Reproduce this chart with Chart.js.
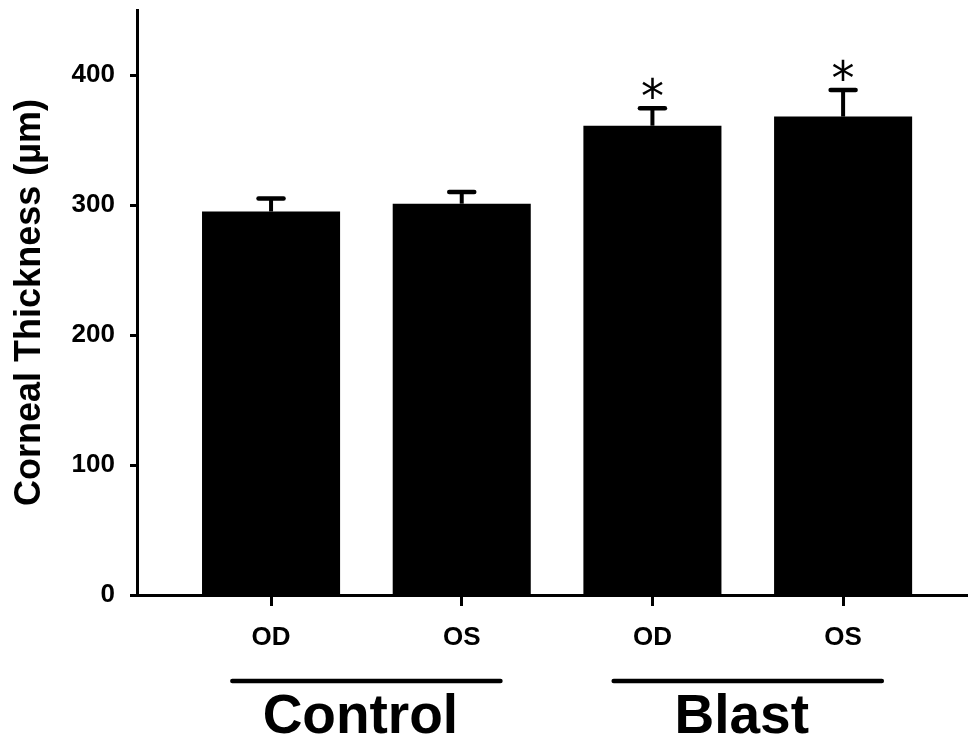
<!DOCTYPE html>
<html>
<head>
<meta charset="utf-8">
<script src="https://cdn.jsdelivr.net/npm/chart.js@4.4.1/dist/chart.umd.min.js"></script>
<style>
html, body { margin: 0; padding: 0; background: #fff; }
#wrap { width: 968px; height: 738px; }
</style>
</head>
<body>
<div id="wrap"><canvas id="graf" width="968" height="738"></canvas></div>
<script>
// data
const categories = ['OD', 'OS', 'OD', 'OS'];
const xPos = [1, 2, 3, 4];
const thickness = [295, 301, 361, 368];
const sem = [10, 9, 13.5, 20.5];
const significant = [false, false, true, true];
const groups = ['Control', 'Blast'];
const groupOf = [0, 0, 1, 1];
const yTicks = [0, 100, 200, 300, 400];

Chart.defaults.font.family = "'Liberation Sans', Arial, sans-serif";

const extras = {
    id: 'extras',
    afterDatasetsDraw(chart) {
        const ctx = chart.ctx;
        const x = chart.scales.x;
        const y = chart.scales.y;
        const base = chart.chartArea.bottom;
        ctx.save();
        ctx.strokeStyle = '#000';
        ctx.fillStyle = '#000';
        for (var i = 0; i < xPos.length; i++) {
            const px = x.getPixelForValue(xPos[i]);
            const top = y.getPixelForValue(thickness[i]);
            const hi = y.getPixelForValue(thickness[i] + sem[i]);
            // error bar (upper only)
            ctx.lineWidth = 4;
            ctx.lineCap = 'butt';
            ctx.beginPath();
            ctx.moveTo(px, top);
            ctx.lineTo(px, hi);
            ctx.stroke();
            ctx.lineWidth = 4.5;
            ctx.lineCap = 'round';
            ctx.beginPath();
            ctx.moveTo(px - 12.5, hi);
            ctx.lineTo(px + 12.5, hi);
            ctx.stroke();
            if (significant[i]) {
                ctx.font = "46px 'DejaVu Sans'";
                ctx.textAlign = 'center';
                ctx.textBaseline = 'alphabetic';
                const m = ctx.measureText('*');
                const cy = hi - 20;
                ctx.fillText('*', px, cy + (m.actualBoundingBoxAscent - m.actualBoundingBoxDescent) / 2);
            }
        }
        // group lines + names under the axis
        const step = x.getPixelForValue(2) - x.getPixelForValue(1);
        for (var g = 0; g < groups.length; g++) {
            const idx = [];
            groupOf.forEach(function (v, k) { if (v === g) idx.push(k); });
            const c1 = x.getPixelForValue(xPos[idx[0]]);
            const c2 = x.getPixelForValue(xPos[idx[idx.length - 1]]);
            const mid = (c1 + c2) / 2;
            const half = 0.703 * step;
            ctx.lineWidth = 4.5;
            ctx.lineCap = 'round';
            ctx.beginPath();
            ctx.moveTo(mid - half, base + 86);
            ctx.lineTo(mid + half, base + 86);
            ctx.stroke();
            ctx.font = "bold 55px 'Liberation Sans'";
            ctx.textAlign = 'center';
            ctx.textBaseline = 'alphabetic';
            ctx.fillText(groups[g], mid - 6, base + 138);
        }
        ctx.restore();
    }
};

new Chart(document.getElementById('graf'), {
    type: 'bar',
    data: {
        datasets: [{
            data: xPos.map(function (v, i) { return { x: v, y: thickness[i] }; }),
            backgroundColor: '#000',
            borderWidth: 0,
            categoryPercentage: 1,
            barPercentage: 0.724
        }]
    },
    options: {
        responsive: false,
        animation: false,
        devicePixelRatio: 1,
        layout: { padding: { top: 10, left: 0, right: 0, bottom: 0 } },
        plugins: {
            legend: { display: false },
            tooltip: { enabled: false }
        },
        scales: {
            x: {
                type: 'linear',
                min: 0.297,
                max: 4.655,
                offset: false,
                afterBuildTicks: function (s) { s.ticks = xPos.map(function (v) { return { value: v }; }); },
                afterFit: function (s) { s.height = 143; s.paddingLeft = 0; s.paddingRight = 0; },
                grid: { offset: false, drawOnChartArea: false, drawTicks: true, tickLength: 11, tickWidth: 3, tickColor: '#000' },
                border: { display: true, color: '#000', width: 3 },
                ticks: {
                    color: '#000',
                    font: { size: 26, weight: 'bold' },
                    padding: 16,
                    maxRotation: 0,
                    autoSkip: false,
                    callback: function (v) { const k = xPos.indexOf(v); return k >= 0 ? categories[k] : ''; }
                }
            },
            y: {
                min: 0,
                max: 450,
                afterBuildTicks: function (s) { s.ticks = yTicks.map(function (v) { return { value: v }; }); },
                afterFit: function (s) { s.width = 137; s.paddingTop = 0; s.paddingBottom = 0; },
                grid: { drawOnChartArea: false, drawTicks: true, tickLength: 7, tickWidth: 3, tickColor: '#000' },
                border: { display: true, color: '#000', width: 3 },
                ticks: { color: '#000', font: { size: 26, weight: 'bold' }, padding: 15 },
                title: {
                    display: true,
                    text: 'Corneal Thickness (µm)',
                    color: '#000',
                    font: { size: 36, weight: 'bold' },
                    padding: { top: 8, bottom: 0 }
                }
            }
        }
    },
    plugins: [extras]
});
</script>
</body>
</html>
